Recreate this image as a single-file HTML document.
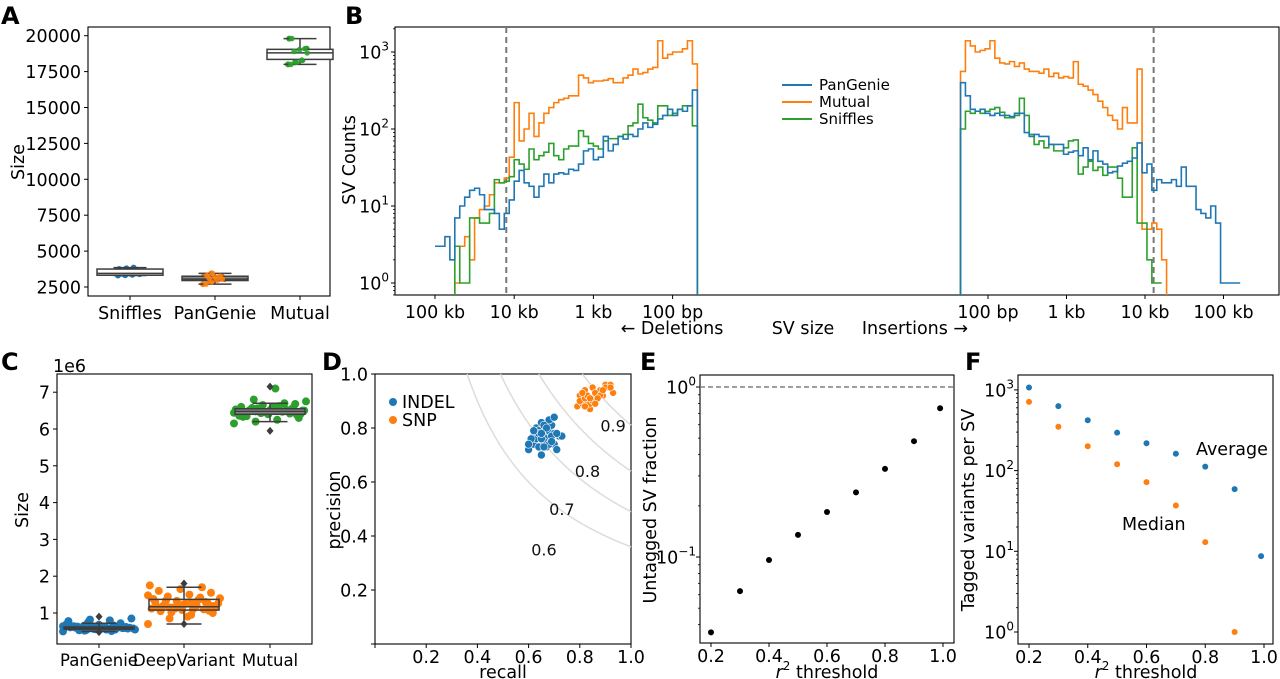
<!DOCTYPE html>
<html><head><meta charset="utf-8"><style>
html,body{margin:0;padding:0;background:#fff;}
svg{display:block;font-family:"DejaVu Sans","Liberation Sans",sans-serif;}
</style></head><body>
<svg id="fig" width="1280" height="679" viewBox="0 0 1280 679" xmlns="http://www.w3.org/2000/svg"></svg>
<script>
// ---------------- DATA ----------------
// Panel A
const aCats = ["Sniffles","PanGenie","Mutual"];
const aLo = [3300,2700,18000];
const aQ1 = [3320,2950,18350];
const aMed = [3450,3050,18800];
const aQ3 = [3750,3250,19050];
const aHi = [3850,3450,19800];
const aSniffles = [3300,3320,3350,3400,3420,3450,3700,3750,3800,3850];
const aPanGenie = [2700,2850,3000,3050,3100,3200,3250,3300,3450];
const aMutual = [18000,18150,18300,18800,18900,19000,19100,19800];
const aTicks = [2500,5000,7500,10000,12500,15000,17500,20000];
// Panel B (counts per bin, 1/16 decade bins)
const delBlue = [3,3,4,2,7,10,13,16,17,14,9,9,8,5,8,12,21,29,20,18,13,18,26,20,26,27,26,30,29,35,52,55,40,43,80,52,63,80,74,85,80,100,120,105,115,135,150,180,150,180,170,200,320];
const delOrange = [null,null,null,null,1,3,4,2,7,9,10,14,20,20,23,43,220,70,100,160,80,120,160,190,220,240,250,270,270,500,460,400,420,420,430,450,400,400,460,500,600,520,540,600,630,1400,830,930,1000,1000,1100,1400,700];
const delGreen = [null,null,null,null,3,1,1,7,7,6,6,8,22,20,21,24,40,35,30,55,40,45,50,65,45,40,55,60,60,95,80,65,60,55,70,75,75,80,85,110,120,210,140,130,120,200,200,150,160,180,200,200,110];
const insBlue = [400,270,180,170,180,160,150,160,150,150,145,160,160,90,80,85,80,80,63,63,63,47,50,52,45,57,40,52,38,35,27,28,33,36,38,42,66,27,35,16,22,20,20,22,18,32,18,18,9,8,7,10,6,1,1,1,1];
const insOrange = [560,1400,1200,1000,1050,1100,1400,830,720,700,750,650,720,600,560,560,530,600,480,530,460,480,460,750,380,360,320,280,230,190,150,130,100,190,120,120,600,5,5,6,5,2];
const insGreen = [100,170,160,170,160,170,180,190,165,140,140,150,250,150,85,63,70,57,63,52,52,57,70,72,26,32,38,29,32,25,32,32,23,13,13,57,6,6,2,1,1];
const bSeries = ["PanGenie","Mutual","Sniffles"];
const bDelTicks = ["100 kb","10 kb","1 kb","100 bp"];
const bDelTickLog = [5,4,3,2];
const bInsTicks = ["100 bp","1 kb","10 kb","100 kb"];
const bInsTickLog = [2,3,4,5];
const bCutoffLog = [4.1,4.11];
// Panel C (x1e6)
const cCats = ["PanGenie","DeepVariant","Mutual"];
const cLo = [0.5,0.7,6.2];
const cQ1 = [0.56,1.08,6.4];
const cMed = [0.6,1.17,6.48];
const cQ3 = [0.62,1.37,6.55];
const cHi = [0.72,1.7,6.7];
const cOutHi = [0.9,1.8,7.15];
const cOutLo = [0.48,0.7,5.95];
const cPanGenie = [0.5,0.52,0.55,0.58,0.6,0.62,0.65,0.7,0.75,0.8,0.85,0.53,0.57,0.59,0.61,0.63,0.66,0.55,0.58,0.6,0.62,0.64,0.56,0.59,0.61,0.54,0.57,0.6,0.63,0.68,0.72,0.78,0.82,0.51,0.58,0.61,0.6,0.59,0.62,0.57,0.55,0.64,0.66,0.6,0.58];
const cDeepVariant = [0.7,0.85,0.95,1.0,1.05,1.08,1.1,1.12,1.15,1.17,1.2,1.22,1.25,1.28,1.3,1.33,1.36,1.4,1.45,1.5,1.55,1.6,1.65,1.7,1.75,1.02,1.1,1.14,1.18,1.24,1.3,1.38,1.12,1.2,1.26,1.34,0.9,1.06,1.16,1.22,1.42,1.48,1.15,1.28,1.19];
const cMutual = [6.15,6.2,6.25,6.3,6.35,6.4,6.42,6.45,6.47,6.48,6.5,6.52,6.55,6.58,6.6,6.65,6.7,6.75,6.8,7.1,6.38,6.44,6.46,6.5,6.53,6.56,6.62,6.41,6.49,6.51,6.54,6.36,6.43,6.47,6.5,6.57,6.61,6.68,6.33,6.46,6.52,6.44,6.48,6.55,6.4];
const cTicks = [1,2,3,4,5,6,7];
// Panel D
const dLevels = [0.6,0.7,0.8,0.9];
const dLabR = [0.66,0.73,0.83,0.93];
const dLabP = [0.35,0.5,0.64,0.81];
const indelR = [0.60,0.61,0.62,0.63,0.64,0.65,0.66,0.67,0.68,0.69,0.70,0.71,0.72,0.73,0.62,0.64,0.66,0.68,0.70,0.65,0.67,0.69,0.63,0.61,0.66,0.68,0.70,0.64,0.67,0.65,0.71,0.69,0.62,0.66,0.60,0.65];
const indelP = [0.72,0.75,0.74,0.80,0.73,0.82,0.78,0.76,0.79,0.81,0.74,0.72,0.77,0.77,0.77,0.79,0.75,0.83,0.78,0.70,0.73,0.77,0.76,0.76,0.81,0.74,0.84,0.78,0.80,0.76,0.78,0.75,0.79,0.73,0.74,0.78];
const snpR = [0.79,0.80,0.81,0.82,0.83,0.84,0.85,0.86,0.87,0.88,0.89,0.90,0.91,0.92,0.93,0.80,0.82,0.84,0.86,0.88,0.90,0.83,0.85,0.87,0.81,0.84,0.89,0.92,0.86,0.82];
const snpP = [0.88,0.92,0.89,0.94,0.90,0.87,0.95,0.91,0.93,0.94,0.92,0.96,0.95,0.96,0.93,0.90,0.91,0.89,0.93,0.92,0.95,0.92,0.90,0.91,0.93,0.91,0.94,0.95,0.89,0.88];
const dTicks = [0.2,0.4,0.6,0.8,1.0];
// Panel E
const eR2 = [0.2,0.3,0.4,0.5,0.6,0.7,0.8,0.9,0.99];
const eFrac = [0.036,0.063,0.096,0.135,0.184,0.24,0.33,0.48,0.75];
// Panel F
const fR2 = [0.2,0.3,0.4,0.5,0.6,0.7,0.8,0.9,0.99];
const fAverage = [1070,630,420,295,218,162,112,59,8.7];
const fMedianR2 = [0.2,0.3,0.4,0.5,0.6,0.7,0.8,0.9];
const fMedian = [710,350,200,120,72,37,13,1];
const xTicks = [0.2,0.4,0.6,0.8,1.0];

// ---------------- HELPERS ----------------
const NS = "http://www.w3.org/2000/svg";
const svg = document.getElementById("fig");
const BLUE="#1f77b4", ORANGE="#ff7f0e", GREEN="#2ca02c";
const FS = 17.5;
function mk(tag, attrs, parent, name){
  const e = document.createElementNS(NS, tag);
  for (const k in attrs) e.setAttribute(k, attrs[k]);
  
  
  (parent||svg).appendChild(e);
  return e;
}
function txt(x,y,s,opt,parent,name){
  const a = Object.assign({x:x,y:y,"font-size":FS,fill:"#000"},opt||{});
  const t = mk("text",a,parent,name);
  t.textContent = s;
  return t;
}
function frame(x0,y0,x1,y1,name){
  return mk("rect",{x:x0,y:y0,width:x1-x0,height:y1-y0,fill:"none",stroke:"#000","stroke-width":1.1},svg,name);
}
function ytick(x,y,label,name,len){
  mk("line",{x1:x-(len||4),y1:y,x2:x,y2:y,stroke:"#000","stroke-width":1},svg,name+"-tick");
  if(label!==null) txt(x-7,y+6.5,label,{"text-anchor":"end"},svg,name+"-label");
}
function xtick(x,y,label,name,dy,fs){
  mk("line",{x1:x,y1:y,x2:x,y2:y+4,stroke:"#000","stroke-width":1},svg,name+"-tick");
  if(label!==null) txt(x,y+(dy||23),label,{"text-anchor":"middle","font-size":fs||FS},svg,name+"-label");
}
function powLabel(xr,y,exp,name){
  const t = mk("text",{x:xr,y:y+6.5,"font-size":FS,"text-anchor":"end"},svg,name);
  const a = mk("tspan",{},t,name+"-base"); a.textContent="10";
  const b = mk("tspan",{"font-size":12,dy:-8},t,name+"-exp"); b.textContent=exp;
  return t;
}
function panelLabel(x,y,s){
  txt(x,y,s,{"font-size":24,"font-weight":"bold"},svg,"panel-label-"+s.toLowerCase());
}
function rotTitle(x,y,s,name){
  txt(x,y,s,{"text-anchor":"middle",transform:"rotate(-90 "+x+" "+y+")"},svg,name);
}
function jit(i){ return ((i*53)%41)/40-0.5; }

// ---------------- PANEL A ----------------
panelLabel(1,24,"A");
const A = {x0:88,x1:330,y0:27,y1:296};
const aY = v => 287 - (v-2500)/2500*35.9;
const aX = [130,215,300];
frame(A.x0,A.y0,A.x1,A.y1,"panel-a-axes");
aTicks.forEach(v=>ytick(A.x0,aY(v),String(v),"a-ytick-"+v));
aCats.forEach((c,i)=>xtick(aX[i],A.y1,c,"a-xtick-"+c.toLowerCase()));
rotTitle(24,162,"Size","a-y-axis-title");
function boxplot(cx,hw,lo,q1,md,q3,hi,ys,fill,name){
  const g = mk("g",{},svg,name);
  mk("line",{x1:cx,y1:ys(lo),x2:cx,y2:ys(q1),stroke:"#3d3d3d","stroke-width":1.5},g,name+"-whisker-low");
  mk("line",{x1:cx,y1:ys(q3),x2:cx,y2:ys(hi),stroke:"#3d3d3d","stroke-width":1.5},g,name+"-whisker-high");
  mk("line",{x1:cx-hw/2,y1:ys(lo),x2:cx+hw/2,y2:ys(lo),stroke:"#3d3d3d","stroke-width":1.5},g,name+"-cap-low");
  mk("line",{x1:cx-hw/2,y1:ys(hi),x2:cx+hw/2,y2:ys(hi),stroke:"#3d3d3d","stroke-width":1.5},g,name+"-cap-high");
  mk("rect",{x:cx-hw,y:ys(q3),width:2*hw,height:Math.max(2,ys(q1)-ys(q3)),fill:fill,stroke:"#3d3d3d","stroke-width":1.5},g,name+"-box");
  mk("line",{x1:cx-hw,y1:ys(md),x2:cx+hw,y2:ys(md),stroke:"#3d3d3d","stroke-width":1.5},g,name+"-median");
  return g;
}
const aFill=["#fff","#8a8a8a","#fff"];
[aSniffles,aPanGenie,aMutual].forEach((arr,k)=>{
  const col=[BLUE,ORANGE,GREEN][k];
  arr.forEach((v,i)=>{
    mk("circle",{cx:aX[k]+jit(i)*24,cy:aY(v),r:3,fill:col},svg,"a-point-"+aCats[k].toLowerCase());
  });
});
aCats.forEach((c,i)=>boxplot(aX[i],33,aLo[i],aQ1[i],aMed[i],aQ3[i],aHi[i],aY,aFill[i],"a-box-"+c.toLowerCase()));
[aPanGenie,aMutual].forEach((arr,k)=>{
  const kk=k+1, col=[BLUE,ORANGE,GREEN][kk];
  arr.forEach((v,i)=>{
    mk("circle",{cx:aX[kk]+jit(i)*18,cy:aY(v),r:2.8,fill:col,opacity:0.9},svg,"a-point-top-"+aCats[kk].toLowerCase());
  });
});

// ---------------- PANEL B ----------------
panelLabel(345,24,"B");
const B = {x0:395,x1:1279,y0:27,y1:295};
frame(B.x0,B.y0,B.x1,B.y1,"panel-b-axes");
const bY = c => (c===null||c<=0) ? B.y1+5 : Math.min(B.y1+5, 283 - 77*Math.log10(c));
const bXdel = lg => 435 + (5-lg)*79.2;
const bXins = lg => 988 + (lg-2)*78.5;
for(let d=0; d<=3; d++){
  ytick(B.x0,283-77*d,null,"b-ytick-"+d);
  powLabel(B.x0-6,283-77*d,String(d),"b-ytick-label-"+d);
  for(let m=2;m<=9;m++){
    const yy=283-77*(d+Math.log10(m));
    if(yy>B.y0) mk("line",{x1:B.x0-2,y1:yy,x2:B.x0,y2:yy,stroke:"#000","stroke-width":0.8},svg,"b-minor-tick");
  }
}
for(let m=2;m<=9;m++){ const yy=283-77*(Math.log10(m)-1); if(yy<B.y1) mk("line",{x1:B.x0-2,y1:yy,x2:B.x0,y2:yy,stroke:"#000","stroke-width":0.8},svg,"b-minor-tick"); }
rotTitle(355,160,"SV Counts","b-y-axis-title");
bDelTicks.forEach((s,i)=>xtick(bXdel(bDelTickLog[i]),B.y1,s,"b-xtick-del-"+i));
bInsTicks.forEach((s,i)=>xtick(bXins(bInsTickLog[i]),B.y1,s,"b-xtick-ins-"+i));
txt(672,334,"← Deletions",{"text-anchor":"middle"},svg,"b-deletions-label");
txt(803,334,"SV size",{"text-anchor":"middle"},svg,"b-x-axis-title");
txt(915,334,"Insertions →",{"text-anchor":"middle"},svg,"b-insertions-label");
mk("clipPath",{id:"bclip"},svg,"b-clip").appendChild((()=>{const r=document.createElementNS(NS,"rect");r.setAttribute("x",B.x0);r.setAttribute("y",B.y0);r.setAttribute("width",B.x1-B.x0);r.setAttribute("height",B.y1-B.y0);return r;})());
const bG = mk("g",{"clip-path":"url(#bclip)"},svg,"b-plot-area");
mk("line",{x1:bXdel(bCutoffLog[0]),y1:B.y0,x2:bXdel(bCutoffLog[0]),y2:B.y1,stroke:"#777","stroke-width":2,"stroke-dasharray":"6,4"},bG,"b-cutoff-deletions");
mk("line",{x1:bXins(bCutoffLog[1]),y1:B.y0,x2:bXins(bCutoffLog[1]),y2:B.y1,stroke:"#777","stroke-width":2,"stroke-dasharray":"6,4"},bG,"b-cutoff-insertions");
function stepHist(arr,edgeLog,step,xf,color,fromBottom,toBottom,name){
  let d="", started=false;
  for(let i=0;i<arr.length;i++){
    const xa=xf(edgeLog+step*i), xb=xf(edgeLog+step*(i+1));
    const y=bY(arr[i]);
    if(arr[i]===null){ continue; }
    if(!started){
      d += fromBottom ? "M"+xa+","+(B.y1+5)+"L"+xa+","+y : "M"+xa+","+y;
      started=true;
    } else { d += "L"+xa+","+y; }
    d += "L"+xb+","+y;
    if(i===arr.length-1 && toBottom) d += "L"+xb+","+(B.y1+5);
  }
  return mk("path",{d:d,fill:"none",stroke:color,"stroke-width":1.6},bG,name);
}
stepHist(delOrange,5,-1/16,bXdel,ORANGE,true,true,"b-mutual-deletions");
stepHist(delGreen,5,-1/16,bXdel,GREEN,true,true,"b-sniffles-deletions");
stepHist(delBlue,5,-1/16,bXdel,BLUE,false,true,"b-pangenie-deletions");
stepHist(insOrange,1.65,1/16,bXins,ORANGE,true,true,"b-mutual-insertions");
stepHist(insGreen,1.65,1/16,bXins,GREEN,true,false,"b-sniffles-insertions");
stepHist(insBlue,1.65,1/16,bXins,BLUE,true,false,"b-pangenie-insertions");
const bLegCols=[BLUE,ORANGE,GREEN];
bSeries.forEach((s,i)=>{
  const y=85+17*i;
  mk("line",{x1:782,y1:y,x2:812,y2:y,stroke:bLegCols[i],"stroke-width":2},svg,"b-legend-line-"+s.toLowerCase());
  txt(819,y+5,s,{"font-size":15},svg,"b-legend-entry-"+s.toLowerCase());
});

// ---------------- PANEL C ----------------
panelLabel(1,370,"C");
const C = {x0:57,x1:312,y0:374,y1:644};
const cY = v => 613 - (v-1)*36.8;
const cX = [99,184,270];
frame(C.x0,C.y0,C.x1,C.y1,"panel-c-axes");
cTicks.forEach(v=>ytick(C.x0,cY(v),String(v),"c-ytick-"+v));
txt(53,372,"1e6",{},svg,"c-offset-label");
cCats.forEach((c,i)=>xtick(cX[i],C.y1,c,"c-xtick-"+c.toLowerCase(),22,16.5));
rotTitle(28,510,"Size","c-y-axis-title");
[cPanGenie,cDeepVariant,cMutual].forEach((arr,k)=>{
  const col=[BLUE,ORANGE,GREEN][k];
  arr.forEach((v,i)=>{
    mk("circle",{cx:cX[k]+jit(i)*72,cy:cY(v),r:4,fill:col},svg,"c-point-"+cCats[k].toLowerCase());
  });
});
const cFill=["#3d3d3d","none","#8a8a8a"];
cCats.forEach((c,i)=>{
  boxplot(cX[i],35,cLo[i],cQ1[i],cMed[i],cQ3[i],cHi[i],cY,cFill[i],"c-box-"+c.toLowerCase());
  [cOutHi[i],cOutLo[i]].forEach((v,j)=>{
    const yy=cY(v);
    mk("path",{d:"M"+cX[i]+","+(yy-4)+"L"+(cX[i]+3.5)+","+yy+"L"+cX[i]+","+(yy+4)+"L"+(cX[i]-3.5)+","+yy+"Z",fill:"#3d3d3d"},svg,"c-outlier-"+c.toLowerCase());
  });
});

// ---------------- PANEL D ----------------
panelLabel(322,370,"D");
const D = {x0:375,x1:631,y0:374,y1:644};
const dX = r => D.x0 + r*(D.x1-D.x0);
const dY = p => D.y1 - p*(D.y1-D.y0);
frame(D.x0,D.y0,D.x1,D.y1,"panel-d-axes");
[0.2,0.4,0.6,0.8,1.0].forEach(v=>ytick(D.x0,dY(v),v.toFixed(1),"d-ytick-"+v));
ytick(D.x0,dY(0),null,"d-ytick-0");
xtick(D.x0,D.y1,null,"d-xtick-0");
dTicks.forEach(v=>xtick(dX(v),D.y1,v.toFixed(1),"d-xtick-"+v,19));
txt(503,678,"recall",{"text-anchor":"middle"},svg,"d-x-axis-title");
rotTitle(340,510,"precision","d-y-axis-title");
dLevels.forEach((f,k)=>{
  let d="";
  for(let j=0;j<=200;j++){
    const r = f*f + (1-f*f)*j/200;
    const p = f*f/r;
    d += (d===""?"M":"L")+dX(r).toFixed(1)+","+dY(p).toFixed(1);
  }
  mk("path",{d:d,fill:"none",stroke:"#dcdcdc","stroke-width":1.5},svg,"d-contour-"+f);
  txt(dX(dLabR[k]),dY(dLabP[k])+6,f.toFixed(1),{"text-anchor":"middle","font-size":16,fill:"#111"},svg,"d-contour-label-"+f);
});
indelR.forEach((r,i)=>mk("circle",{cx:dX(r),cy:dY(indelP[i]),r:4,fill:BLUE,stroke:"#fff","stroke-width":0.6},svg,"d-indel-point"));
snpR.forEach((r,i)=>mk("circle",{cx:dX(r),cy:dY(snpP[i]),r:3.5,fill:ORANGE,stroke:"#fff","stroke-width":0.6},svg,"d-snp-point"));
mk("circle",{cx:393,cy:402,r:4,fill:BLUE},svg,"d-legend-marker-indel");
txt(402,408,"INDEL",{},svg,"d-legend-entry-indel");
mk("circle",{cx:393,cy:420,r:4,fill:ORANGE},svg,"d-legend-marker-snp");
txt(402,426,"SNP",{},svg,"d-legend-entry-snp");

// ---------------- PANEL E ----------------
panelLabel(640,370,"E");
const E = {x0:700,x1:954,y0:375,y1:643};
const eX = r => 711 + (r-0.2)/0.2*58;
const eY = v => 387 - 170*Math.log10(v);
frame(E.x0,E.y0,E.x1,E.y1,"panel-e-axes");
ytick(E.x0,eY(1),null,"e-ytick-0"); powLabel(E.x0-4,eY(1),"0","e-ytick-label-0");
ytick(E.x0,eY(0.1),null,"e-ytick-m1"); powLabel(E.x0-4,eY(0.1),"−1","e-ytick-label-m1");
[0.03,0.04,0.05,0.06,0.07,0.08,0.09,0.2,0.3,0.4,0.5,0.6,0.7,0.8,0.9].forEach(v=>{
  const yy=eY(v); if(yy<E.y1&&yy>E.y0) mk("line",{x1:E.x0-2,y1:yy,x2:E.x0,y2:yy,stroke:"#000","stroke-width":0.8},svg,"e-minor-tick");
});
xTicks.forEach(v=>xtick(eX(v),E.y1,v.toFixed(1),"e-xtick-"+v,19));
(function(){const t=mk("text",{x:827,y:678,"font-size":FS,"text-anchor":"middle"},svg,"e-x-axis-title");
const a=mk("tspan",{"font-style":"italic"},t,"e-r");a.textContent="r";
const b=mk("tspan",{"font-size":12,dy:-8},t,"e-sup");b.textContent="2";
const c=mk("tspan",{dy:8},t,"e-rest");c.textContent=" threshold";})();
rotTitle(656,510,"Untagged SV fraction","e-y-axis-title");
mk("line",{x1:E.x0,y1:eY(1),x2:E.x1,y2:eY(1),stroke:"#808080","stroke-width":1.5,"stroke-dasharray":"5,3"},svg,"e-reference-line");
eR2.forEach((r,i)=>mk("circle",{cx:eX(r),cy:eY(eFrac[i]),r:3,fill:"#000"},svg,"e-point"));

// ---------------- PANEL F ----------------
panelLabel(965,370,"F");
const F = {x0:1018,x1:1273,y0:375,y1:644};
const fX = r => 1029 + (r-0.2)/0.2*58.75;
const fY = v => 632 - 80.7*Math.log10(v);
frame(F.x0,F.y0,F.x1,F.y1,"panel-f-axes");
[0,1,2,3].forEach(d=>{ytick(F.x0,fY(Math.pow(10,d)),null,"f-ytick-"+d);powLabel(F.x0-4,fY(Math.pow(10,d)),String(d),"f-ytick-label-"+d);
  for(let m=2;m<=9;m++){const yy=fY(m*Math.pow(10,d)); if(yy>F.y0) mk("line",{x1:F.x0-2,y1:yy,x2:F.x0,y2:yy,stroke:"#000","stroke-width":0.8},svg,"f-minor-tick");}});
xTicks.forEach(v=>xtick(fX(v),F.y1,v.toFixed(1),"f-xtick-"+v,19));
(function(){const t=mk("text",{x:1146,y:678,"font-size":FS,"text-anchor":"middle"},svg,"f-x-axis-title");
const a=mk("tspan",{"font-style":"italic"},t,"f-r");a.textContent="r";
const b=mk("tspan",{"font-size":12,dy:-8},t,"f-sup");b.textContent="2";
const c=mk("tspan",{dy:8},t,"f-rest");c.textContent=" threshold";})();
rotTitle(974,510,"Tagged variants per SV","f-y-axis-title");
fR2.forEach((r,i)=>mk("circle",{cx:fX(r),cy:fY(fAverage[i]),r:3,fill:BLUE},svg,"f-average-point"));
fMedianR2.forEach((r,i)=>mk("circle",{cx:fX(r),cy:fY(fMedian[i]),r:3,fill:ORANGE},svg,"f-median-point"));
txt(1196,455,"Average",{},svg,"f-average-label");
txt(1122,530,"Median",{},svg,"f-median-label");
</script>
</body></html>
